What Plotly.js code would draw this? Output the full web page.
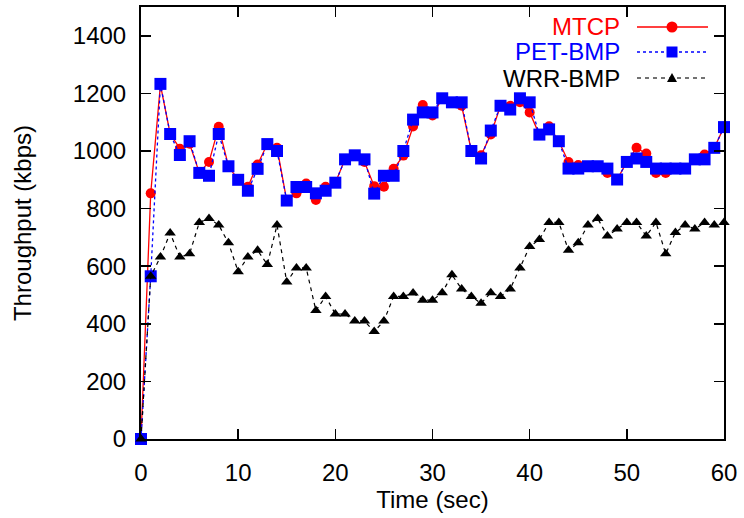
<!DOCTYPE html>
<html>
<head>
<meta charset="utf-8">
<script src="https://cdn.plot.ly/plotly-3.0.1.min.js"></script>
<style>
  html, body { margin: 0; padding: 0; background: #fff; }
  #chart { width: 744px; height: 518px; }
</style>
</head>
<body>
<div id="chart"></div>
<script>
// ---- data ----
const timeSec = [0,1,2,3,4,5,6,7,8,9,10,11,12,13,14,15,16,17,18,19,20,
  21,22,23,24,25,26,27,28,29,30,31,32,33,34,35,36,37,38,39,40,
  41,42,43,44,45,46,47,48,49,50,51,52,53,54,55,56,57,58,59,60];

const mtcp = [0,853,1230,1060,1008,1025,925,962,1084,947,900,
  876,953,1024,1011,828,853,887,830,876,890,
  971,985,962,878,876,938,984,1085,1160,1123,
  1183,1169,1157,1000,985,1057,1157,1157,1169,1134,
  1057,1086,1034,962,951,947,947,924,901,962,
  1011,991,924,924,939,939,971,988,1011,1083];

const petBmp = [0,565,1233,1059,986,1034,924,914,1059,947,900,
  862,938,1024,1000,828,875,875,853,862,890,
  971,985,971,852,914,914,1000,1109,1134,1134,
  1183,1169,1169,1000,974,1071,1157,1144,1183,1169,
  1057,1075,1034,939,939,947,947,939,901,962,
  974,962,939,939,939,939,971,971,1011,1083];

const wrrBmp = [0,565,632,715,632,643,752,766,743,681,581,
  632,655,606,743,545,594,594,446,495,434,
  434,410,410,373,410,495,495,507,482,482,
  508,570,521,495,471,508,495,521,594,668,
  693,752,752,655,681,743,766,705,729,752,
  752,705,752,643,717,743,729,752,743,752];

const seriesNames = ['MTCP', 'PET-BMP', 'WRR-BMP'];
const xTicks = [0,10,20,30,40,50,60];
const yTicks = [0,200,400,600,800,1000,1200,1400];

// ---- styling ----
const FONT = 'Liberation Sans, Arial, Helvetica, sans-serif';
const RED = '#ff0000', BLUE = '#0000ff', BLACK = '#000000';

const traces = [
  { x: timeSec, y: mtcp, name: seriesNames[0], type: 'scatter', mode: 'lines+markers',
    cliponaxis: false,
    line: { color: RED, width: 1.3 },
    marker: { symbol: 'circle', size: 10, color: RED } },
  { x: timeSec, y: petBmp, name: seriesNames[1], type: 'scatter', mode: 'lines+markers',
    cliponaxis: false,
    line: { color: BLUE, width: 1.3, dash: '3px,3px' },
    marker: { symbol: 'square', size: 12, color: BLUE } },
  { x: timeSec, y: wrrBmp, name: seriesNames[2], type: 'scatter', mode: 'lines+markers',
    cliponaxis: false,
    line: { color: BLACK, width: 1.2, dash: '4px,4px' },
    marker: { symbol: 'triangle-up', size: 10, color: BLACK } }
];

// manual legend (text left, key right) in paper coordinates
const L = 141, R = 724, T = 7, B = 439;
const PW = R - L, PH = B - T;
const px = v => (v - L) / PW;
const py = v => (B - v) / PH;

const legendRows = [
  { name: seriesNames[0], color: RED, dash: 'solid', yc: 27, sym: 'circle' },
  { name: seriesNames[1], color: BLUE, dash: '3px,3px', yc: 52, sym: 'square' },
  { name: seriesNames[2], color: '#444', dash: '4px,4px', yc: 78, sym: 'triangle', text: BLACK }
];

const annotations = [];
const shapes = [];
legendRows.forEach(r => {
  annotations.push({
    xref: 'paper', yref: 'paper', x: px(622), y: py(r.yc),
    xanchor: 'right', yanchor: 'middle', showarrow: false,
    text: r.name, font: { family: FONT, size: 24, color: r.text || r.color }
  });
  shapes.push({
    type: 'line', xref: 'paper', yref: 'paper',
    x0: px(637), x1: px(708), y0: py(r.yc), y1: py(r.yc),
    line: { color: r.color, width: 1.3, dash: r.dash }
  });
  const cx = 672, cy = r.yc;
  if (r.sym === 'circle') {
    shapes.push({ type: 'circle', xref: 'paper', yref: 'paper',
      x0: px(cx - 5.5), x1: px(cx + 5.5), y0: py(cy + 5.5), y1: py(cy - 5.5),
      fillcolor: RED, line: { width: 0 } });
  } else if (r.sym === 'square') {
    shapes.push({ type: 'rect', xref: 'paper', yref: 'paper',
      x0: px(cx - 5.5), x1: px(cx + 5.5), y0: py(cy + 5.5), y1: py(cy - 5.5),
      fillcolor: BLUE, line: { width: 0 } });
  } else {
    const p = `M ${px(cx - 5)} ${py(cy + 4)} L ${px(cx + 5)} ${py(cy + 4)} L ${px(cx)} ${py(cy - 5)} Z`;
    shapes.push({ type: 'path', xref: 'paper', yref: 'paper', path: p,
      fillcolor: BLACK, line: { width: 0 } });
  }
});

const axisCommon = {
  showgrid: false, zeroline: false,
  showline: true, linecolor: BLACK, linewidth: 2, mirror: 'ticks',
  ticks: 'inside', ticklen: 10, tickwidth: 1.5, tickcolor: BLACK,
  tickfont: { family: FONT, size: 24, color: BLACK }
};

const layout = {
  width: 744, height: 518,
  margin: { l: L, r: 744 - R, t: T, b: 518 - B },
  paper_bgcolor: '#fff', plot_bgcolor: '#fff',
  showlegend: false,
  font: { family: FONT, size: 24, color: BLACK },
  xaxis: Object.assign({}, axisCommon, {
    range: [0, 60], tickmode: 'array', tickvals: xTicks,
    ticklabelstandoff: 11,
    title: { text: 'Time (sec)', font: { family: FONT, size: 24, color: BLACK }, standoff: 4 }
  }),
  yaxis: Object.assign({}, axisCommon, {
    range: [0, 1500], tickmode: 'array', tickvals: yTicks,
    ticklabelstandoff: 8,
    title: { text: 'Throughput (kbps)', font: { family: FONT, size: 24, color: BLACK }, standoff: 34 }
  }),
  annotations: annotations,
  shapes: shapes
};

Plotly.newPlot('chart', traces, layout, { displayModeBar: false, staticPlot: true });
</script>
</body>
</html>
